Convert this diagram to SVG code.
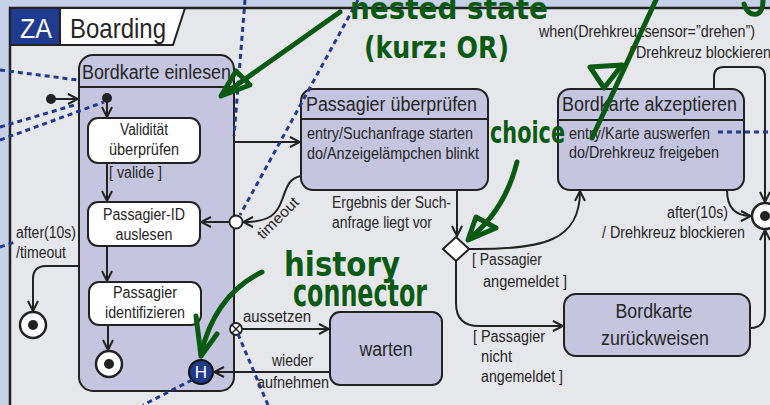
<svg xmlns="http://www.w3.org/2000/svg" width="770" height="405" viewBox="0 0 770 405">
<defs>
<style>
.bg{fill:#c6d0e7}
.frame{fill:#e6e7ea;stroke:#222;stroke-width:2.5}
.st{fill:#c5c5e0;stroke:#222;stroke-width:2}
.sub{fill:#fff;stroke:#222;stroke-width:2}
.t{font-family:"Liberation Sans",Arial,sans-serif;font-size:16px;fill:#262626}
.h{font-size:20px}
.m{text-anchor:middle}
.e{text-anchor:end}
.ln{fill:none;stroke:#222;stroke-width:2}
.arr{marker-end:url(#a)}
.dot{fill:none;stroke:#1f3a8f;stroke-width:3;stroke-dasharray:5 4}
.g{fill:none;stroke:#0b5a14;stroke-width:5;stroke-linecap:round;stroke-linejoin:round}
.gt{font-family:"DejaVu Sans",sans-serif;font-weight:bold;fill:#0b5a14}
.fin{fill:#fff;stroke:#222;stroke-width:2.5}
.blk{fill:#222}
</style>
<marker id="a" viewBox="0 0 12 12" refX="11" refY="6" markerWidth="12" markerHeight="12" markerUnits="userSpaceOnUse" orient="auto">
<path d="M1,1 L11,6 L1,11" fill="none" stroke="#222" stroke-width="2"/>
</marker>
</defs>
<rect class="bg" x="0" y="0" width="770" height="405"/>
<rect class="frame" x="10" y="8" width="790" height="420"/>
<g id="tab">
<rect x="10" y="8" width="50" height="37" fill="#1f3b8f" stroke="#222" stroke-width="2"/>
<polygon points="60,8 185,8 173,45 60,45" fill="#fff" stroke="#222" stroke-width="2"/>
<text class="t" x="20" y="38" style="font-size:28px;fill:#fff" textLength="32" lengthAdjust="spacingAndGlyphs">ZA</text>
<text class="t" x="70" y="38" style="font-size:28px" textLength="96" lengthAdjust="spacingAndGlyphs">Boarding</text>
</g>

<g id="bordkarte-einlesen">
<rect class="st" x="79" y="55" width="155" height="336" rx="14"/>
<line class="ln" x1="79" y1="87" x2="234" y2="87"/>
<text class="t h" x="82" y="79" textLength="149" lengthAdjust="spacingAndGlyphs">Bordkarte einlesen</text>
</g>
<g id="init-outer"><circle class="blk" cx="51" cy="99" r="5"/></g>
<g id="init-inner"><circle class="blk" cx="107" cy="98" r="5"/></g>
<g id="validitaet">
<rect class="sub" x="88" y="118" width="112" height="45" rx="10"/>
<text class="t m" x="144" y="135" textLength="48" lengthAdjust="spacingAndGlyphs">Validität</text>
<text class="t m" x="144" y="155" textLength="70" lengthAdjust="spacingAndGlyphs">überprüfen</text>
</g>
<g id="passagier-id">
<rect class="sub" x="88" y="202" width="112" height="44" rx="10"/>
<text class="t m" x="144" y="220" textLength="82" lengthAdjust="spacingAndGlyphs">Passagier-ID</text>
<text class="t m" x="144" y="240" textLength="57" lengthAdjust="spacingAndGlyphs">auslesen</text>
</g>
<g id="passagier-identifizieren">
<rect class="sub" x="89" y="282" width="112" height="43" rx="10"/>
<text class="t m" x="145" y="298" textLength="64" lengthAdjust="spacingAndGlyphs">Passagier</text>
<text class="t m" x="145" y="318" textLength="80" lengthAdjust="spacingAndGlyphs">identifizieren</text>
</g>
<g id="final-inner"><circle class="fin" cx="109" cy="364" r="13"/><circle class="blk" cx="109" cy="364" r="5"/></g>
<g id="history">
<circle cx="201" cy="372" r="12" fill="#1f3a8a" stroke="#111" stroke-width="2"/>
<text class="t m" x="201" y="378" style="font-size:17px;fill:#fff">H</text>
</g>
<g id="final-left"><circle class="fin" cx="33" cy="325" r="13"/><circle class="blk" cx="33" cy="325" r="5"/></g>
<g id="junction"><circle cx="236" cy="222" r="6.5" fill="#fff" stroke="#222" stroke-width="1.8"/></g>
<g id="exit-point">
<circle cx="236" cy="329" r="6" fill="#fff" stroke="#222" stroke-width="1.8"/>
<path d="M232,325 L240,333 M240,325 L232,333" stroke="#222" stroke-width="1.5"/>
</g>

<g id="passagier-ueberpruefen">
<rect class="st" x="301" y="89" width="187" height="101" rx="12"/>
<line class="ln" x1="301" y1="119" x2="488" y2="119"/>
<text class="t h" x="306" y="111" textLength="171" lengthAdjust="spacingAndGlyphs">Passagier überprüfen</text>
<text class="t" x="307" y="139" textLength="166" lengthAdjust="spacingAndGlyphs">entry/Suchanfrage starten</text>
<text class="t" x="307" y="159" textLength="172" lengthAdjust="spacingAndGlyphs">do/Anzeigelämpchen blinkt</text>
</g>
<g id="choice"><polygon points="456,237 469,249 456,261 443,249" fill="#fff" stroke="#222" stroke-width="2"/></g>
<g id="bordkarte-akzeptieren">
<rect class="st" x="558" y="89" width="186" height="101" rx="12"/>
<line class="ln" x1="558" y1="120" x2="744" y2="120"/>
<text class="t h" x="562" y="111" textLength="175" lengthAdjust="spacingAndGlyphs">Bordkarte akzeptieren</text>
<text class="t" x="569" y="139" textLength="141" lengthAdjust="spacingAndGlyphs">entry/Karte auswerfen</text>
<text class="t" x="569" y="158" textLength="150" lengthAdjust="spacingAndGlyphs">do/Drehkreuz freigeben</text>
</g>
<g id="bordkarte-zurueckweisen">
<rect class="st" x="564" y="294" width="186" height="62" rx="12"/>
<text class="t h m" x="654" y="318" textLength="77" lengthAdjust="spacingAndGlyphs">Bordkarte</text>
<text class="t h m" x="655" y="345" textLength="108" lengthAdjust="spacingAndGlyphs">zurückweisen</text>
</g>
<g id="warten">
<rect class="st" x="330" y="312" width="112" height="73" rx="10"/>
<text class="t h m" x="386" y="356" textLength="53" lengthAdjust="spacingAndGlyphs">warten</text>
</g>
<g id="final-right"><circle class="fin" cx="765" cy="216" r="13"/><circle class="blk" cx="765" cy="216" r="5"/></g>

<g id="connectors">
<path class="ln arr" d="M51,99 H78"/>
<path class="ln arr" d="M107,98 V117"/>
<path class="ln arr" d="M107,163 V201"/>
<path class="ln arr" d="M107,246 V281"/>
<path class="ln arr" d="M108,325 V350"/>
<path class="ln arr" d="M79,266 H46 Q33,266 33,279 V311"/>
<path class="ln arr" d="M235,142 H300"/>
<path class="ln arr" d="M301,176 C288,178 286,190 282,200 C277,214 270,222 243,222"/>
<path class="ln arr" d="M229,222 H201"/>
<path class="ln arr" d="M457,190 V236"/>
<path class="ln arr" d="M469,249 C545,250 580,240 580,191"/>
<path class="ln arr" d="M456,261 V303 Q456,326 479,326 H563"/>
<path class="ln arr" d="M750,328 Q765,328 765,312 V230"/>
<path class="ln arr" d="M727,190 Q727,216 751,216"/>
<path class="ln arr" d="M714,89 V77 Q714,67 724,67 H756 Q765,67 765,77 V202"/>
<path class="ln arr" d="M242,329 H329"/>
<path class="ln arr" d="M330,372 H214"/>
<text class="t" x="109" y="178" textLength="53" lengthAdjust="spacingAndGlyphs">[ valide ]</text>
<text class="t" x="16" y="238" textLength="60" lengthAdjust="spacingAndGlyphs">after(10s)</text>
<text class="t" x="16" y="258" textLength="50" lengthAdjust="spacingAndGlyphs">/timeout</text>
<text class="t" transform="translate(263,240) rotate(-45)" style="font-size:15px" textLength="52" lengthAdjust="spacingAndGlyphs">timeout</text>
<text class="t" x="332" y="208" textLength="119" lengthAdjust="spacingAndGlyphs">Ergebnis der Such-</text>
<text class="t" x="332" y="228" textLength="100" lengthAdjust="spacingAndGlyphs">anfrage liegt vor</text>
<text class="t" x="472" y="265" textLength="70" lengthAdjust="spacingAndGlyphs">[ Passagier</text>
<text class="t" x="483" y="287" textLength="84" lengthAdjust="spacingAndGlyphs">angemeldet ]</text>
<text class="t" x="473" y="342" textLength="72" lengthAdjust="spacingAndGlyphs">[ Passagier</text>
<text class="t" x="481" y="362" textLength="31" lengthAdjust="spacingAndGlyphs">nicht</text>
<text class="t" x="481" y="382" textLength="82" lengthAdjust="spacingAndGlyphs">angemeldet ]</text>
<text class="t" x="539" y="37" textLength="216" lengthAdjust="spacingAndGlyphs">when(Drehkreuzsensor=”drehen”)</text>
<text class="t" x="628" y="58" textLength="143" lengthAdjust="spacingAndGlyphs">/ Drehkreuz blockieren</text>
<text class="t e" x="728" y="218" textLength="61" lengthAdjust="spacingAndGlyphs">after(10s)</text>
<text class="t e" x="745" y="238" textLength="143" lengthAdjust="spacingAndGlyphs">/ Drehkreuz blockieren</text>
<text class="t" x="243" y="322" textLength="68" lengthAdjust="spacingAndGlyphs">aussetzen</text>
<text class="t" x="272" y="366" textLength="41" lengthAdjust="spacingAndGlyphs">wieder</text>
<text class="t" x="257" y="388" textLength="72" lengthAdjust="spacingAndGlyphs">aufnehmen</text>
</g>

<g id="annotations-dotted">
<path class="dot" d="M0,70 L78,80"/>
<path class="dot" d="M0,127 L78,104"/>
<path class="dot" d="M0,140 L104,102"/>
<path class="dot" d="M0,247 L15,242"/>
<path class="dot" d="M245,0 L234,136"/>
<path class="dot" d="M358,0 L240,215"/>
<path class="dot" d="M718,132 H770"/>
<path class="dot" d="M192,380 L143,405"/>
<path class="dot" d="M238,334 L268,405"/>
</g>

<g id="annotations-handwritten">
<text class="gt" x="350" y="19" style="font-size:30px" textLength="198" lengthAdjust="spacingAndGlyphs">nested state</text>
<text class="gt" x="364" y="58" style="font-size:30px" textLength="145" lengthAdjust="spacingAndGlyphs">(kurz: OR)</text>
<path class="g" d="M340,12 L224,94"/>
<path class="g" d="M221,96 L236,71 L250,85 Z"/>
<text class="gt" x="490" y="143" style="font-size:30px" textLength="75" lengthAdjust="spacingAndGlyphs">choice</text>
<path class="g" d="M517,162 Q505,210 470,238"/>
<path class="g" d="M468,240 L476,217 L496,228 Z"/>
<text class="gt" x="284" y="276" style="font-size:34px" textLength="116" lengthAdjust="spacingAndGlyphs">history</text>
<text class="gt" x="293" y="306" style="font-size:38px" textLength="134" lengthAdjust="spacingAndGlyphs">connector</text>
<path class="g" d="M262,272 Q215,295 201,354"/>
<path class="g" d="M201,356 L196,316 M201,356 L217,334"/>
<path class="g" d="M656,0 L592,138"/>
<path class="g" d="M590,67 L622,65 L604,88 Z"/>
<path class="g" d="M744,4 Q748,16 757,14 Q763,12 763,0"/>
</g>
</svg>
